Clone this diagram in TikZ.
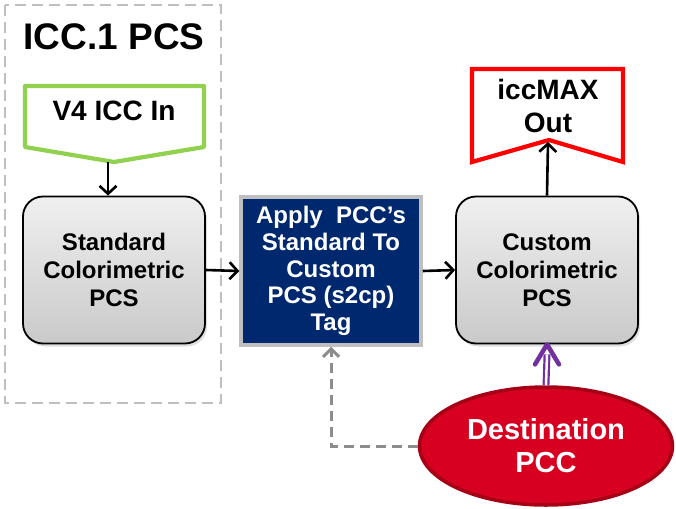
\documentclass[tikz,border=0pt]{standalone}
\usepackage{fontspec}
\setmainfont{Liberation Sans}
\usetikzlibrary{shapes.geometric,arrows.meta,positioning,shadows,calc}
\definecolor{pccnavy}{RGB}{0,40,110}
\definecolor{pccred}{RGB}{215,0,32}
\definecolor{pccdark}{RGB}{165,0,22}
\definecolor{v4green}{RGB}{146,208,80}
\definecolor{tagpurple}{RGB}{112,48,160}
\definecolor{framegray}{RGB}{191,191,191}
\definecolor{linkgray}{RGB}{140,140,140}

\begin{document}
\begin{tikzpicture}[x=1pt,y=-1pt,
  pcs/.style={rectangle, rounded corners=20pt, draw=black, line width=1.8pt,
    top color=gray!12, bottom color=gray!42, minimum width=182pt, minimum height=147pt,
    align=center, font=\bfseries\fontsize{24}{28}\selectfont,
    drop shadow={opacity=0.25, shadow xshift=2pt, shadow yshift=-3pt}},
  tagbox/.style={rectangle, draw=framegray, line width=3.5pt, fill=pccnavy, text=white,
    minimum width=180pt, minimum height=148pt, align=center,
    font=\bfseries\fontsize{24}{26.7}\selectfont},
  pcc/.style={ellipse, draw=pccdark, line width=3.5pt, fill=pccred, text=white,
    minimum width=253pt, minimum height=118pt, align=center,
    font=\bfseries\fontsize{29}{33}\selectfont},
  lbl/.style={align=center, font=\bfseries\fontsize{28}{33}\selectfont},
  flow/.style={draw=black, line width=2.6pt, -{Straight Barb[length=8pt,width=17pt,line width=2.6pt]}},
  link/.style={draw=linkgray, line width=3pt, dash pattern=on 10pt off 6pt,
    -{Straight Barb[length=8pt,width=16pt,line width=3pt]}},
  apply/.style={draw=tagpurple, line width=2.2pt, double=white, double distance=2.5pt}
]
\useasboundingbox (0,0) rectangle (676,508);

% ICC.1 side
\draw[framegray, line width=2.6pt, dash pattern=on 11pt off 6pt] (5,5) rectangle (221,403);
\node (title) at (114,37) {\bfseries\fontsize{37}{40}\selectfont ICC.1 PCS};

\draw[v4green, line width=4.2pt, line join=round]
  (25,86) -- (204,86) -- (204,147) -- (114,162) -- (25,147) -- cycle;
\node[lbl] (v4in) at (114,111) {V4 ICC In};
\coordinate (v4tip) at (108,162);

\node[pcs] (std) at (114,270) {Standard\\Colorimetric\\PCS};

% s2cp tag
\node[tagbox] (tag) at (331,271) {Apply\ \ PCC's\\Standard To\\Custom\\PCS (s2cp)\\Tag};

% iccMAX side
\node[pcs] (custom) at (547,270) {Custom\\Colorimetric\\PCS};

\draw[red, line width=4.2pt, line join=miter]
  (472,69) -- (623,69) -- (623,162) -- (549,140) -- (472,162) -- cycle;
\node[lbl] (maxout) at (548,106) {iccMAX\\Out};
\coordinate (maxnotch) at (548,142);

\node[pcc] (dest) at (546,446) {Destination\\PCC};
\coordinate (bend) at (331,446);

% connectors
\draw[flow] (v4tip) -- (v4tip |- std.north);
\draw[flow] (std.east) -- (tag.west);
\draw[flow] (tag.east) -- (custom.west);
\draw[flow] (custom.north) -- (maxnotch);
\draw[link] (dest.west) -- (bend) -- (tag.south);
\draw[apply] (dest.north) -- ([yshift=-10pt]custom.south);
\draw[tagpurple, line width=4.5pt, line cap=round, line join=round]
  ([xshift=-12pt,yshift=-20pt]custom.south) -- (custom.south) -- ([xshift=12pt,yshift=-20pt]custom.south);
\end{tikzpicture}
\end{document}
